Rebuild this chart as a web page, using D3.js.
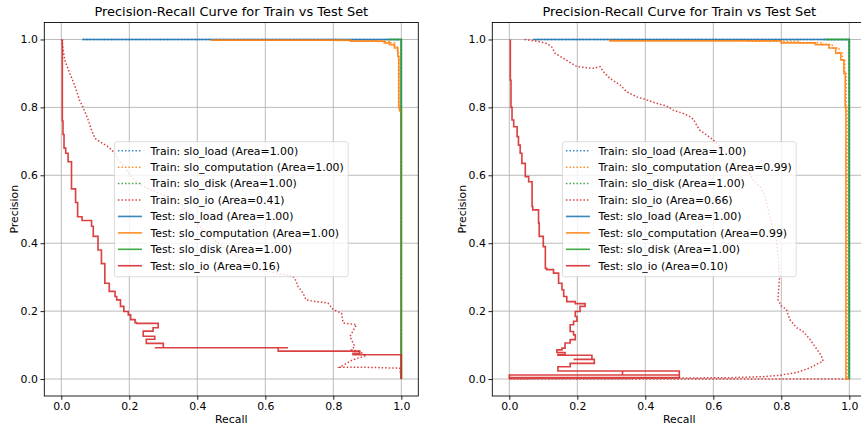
<!DOCTYPE html>
<html>
<head>
<meta charset="utf-8">
<script src="https://cdn.jsdelivr.net/npm/d3@7"></script>
<style>
  html, body { margin: 0; padding: 0; background: #ffffff; overflow: hidden; }
  svg { display: block; font-family: "DejaVu Sans", sans-serif; }
</style>
</head>
<body>
<svg id="chart" width="861" height="426"></svg>
<script>
// ---- shared labels / styling inputs ----
const classNames = ["slo_load", "slo_computation", "slo_disk", "slo_io"];
const classColors = ["#1f77b4", "#ff7f0e", "#2ca02c", "#d62728"];
const tickValues = [0.0, 0.2, 0.4, 0.6, 0.8, 1.0];
const chartTitle = "Precision-Recall Curve for Train vs Test Set";

// ---- left panel: [recall, precision] points ----
const leftTrainArea = [1.00, 1.00, 1.00, 0.41];
const leftTestArea  = [1.00, 1.00, 1.00, 0.16];

const leftTrainLoad = [[0.063, 1.0], [1.0, 1.0], [1.0, 0.0]];
const leftTrainComp = [[0.442, 1.0], [0.80, 0.999], [0.93, 0.997], [0.965, 0.994], [0.98, 0.99],
  [0.988, 0.98], [0.992, 0.96], [0.994, 0.80], [1.0, 0.79], [1.0, 0.0]];
const leftTrainDisk = [[0.955, 1.0], [1.0, 1.0], [1.0, 0.0]];
const leftTrainIo = [[0.001, 1.0], [0.01, 0.94], [0.025, 0.90], [0.039, 0.866], [0.054, 0.82],
  [0.064, 0.80], [0.079, 0.763], [0.089, 0.733], [0.099, 0.709], [0.113, 0.699], [0.138, 0.684],
  [0.158, 0.665], [0.167, 0.645], [0.187, 0.625], [0.202, 0.601], [0.227, 0.576], [0.261, 0.557],
  [0.29, 0.547], [0.349, 0.518], [0.383, 0.478], [0.417, 0.439], [0.461, 0.40], [0.50, 0.371],
  [0.545, 0.341], [0.584, 0.322], [0.633, 0.312], [0.682, 0.302], [0.69, 0.29], [0.696, 0.273],
  [0.711, 0.253], [0.72, 0.233], [0.75, 0.228], [0.784, 0.224], [0.80, 0.204], [0.824, 0.194],
  [0.829, 0.165], [0.868, 0.16], [0.849, 0.125], [0.863, 0.096], [0.853, 0.086], [0.877, 0.081],
  [0.897, 0.069], [0.858, 0.057], [0.819, 0.035], [0.877, 0.035], [0.995, 0.032], [1.0, 0.0]];

const leftTestLoad = [[0.062, 1.0], [1.0, 1.0], [1.0, 0.0]];
const leftTestComp = [[0.442, 1.0], [0.85, 0.998], [0.95, 0.995], [0.965, 0.99], [0.98, 0.985],
  [0.99, 0.975], [0.993, 0.95], [0.995, 0.80], [1.0, 0.79], [1.0, 0.0]];
const leftTestDisk = [[0.965, 1.0], [1.0, 1.0], [1.0, 0.0]];
const leftTestIo = [[0.003, 1.0], [0.005, 0.76], [0.008, 0.72], [0.013, 0.68], [0.02, 0.665],
  [0.03, 0.64], [0.042, 0.56], [0.048, 0.52], [0.061, 0.478], [0.089, 0.467], [0.094, 0.45],
  [0.108, 0.42], [0.118, 0.38], [0.128, 0.34], [0.141, 0.282], [0.158, 0.258], [0.163, 0.243],
  [0.174, 0.233], [0.184, 0.214], [0.197, 0.199], [0.204, 0.189], [0.217, 0.175], [0.221, 0.166],
  [0.285, 0.164], [0.27, 0.151], [0.241, 0.141], [0.275, 0.126], [0.25, 0.117], [0.30, 0.105],
  [0.275, 0.092], [0.667, 0.092], [0.638, 0.092], [0.878, 0.082], [0.858, 0.076], [1.0, 0.0715],
  [1.0, 0.0]];

// ---- right panel: [recall, precision] points ----
const rightTrainArea = [1.00, 0.99, 1.00, 0.66];
const rightTestArea  = [1.00, 0.99, 1.00, 0.10];

const rightTrainLoad = [[0.071, 1.0], [1.0, 1.0], [1.0, 0.0]];
const rightTrainComp = [[0.296, 1.0], [0.70, 0.998], [0.85, 0.995], [0.92, 0.99], [0.95, 0.985],
  [0.97, 0.975], [0.98, 0.96], [0.987, 0.94], [0.991, 0.90], [0.994, 0.80], [0.996, 0.0], [1.0, 0.0]];
const rightTrainDisk = [[0.923, 1.0], [1.0, 1.0], [1.0, 0.0]];
const rightTrainIo = [[0.045, 1.0], [0.091, 0.993], [0.11, 0.988], [0.125, 0.978], [0.135, 0.959],
  [0.16, 0.944], [0.184, 0.929], [0.199, 0.92], [0.247, 0.915], [0.267, 0.92], [0.277, 0.905],
  [0.296, 0.885], [0.326, 0.866], [0.345, 0.846], [0.375, 0.831], [0.404, 0.822], [0.433, 0.812],
  [0.463, 0.804], [0.482, 0.792], [0.512, 0.782], [0.531, 0.773], [0.541, 0.765], [0.551, 0.748],
  [0.56, 0.733], [0.58, 0.719], [0.60, 0.704], [0.619, 0.684], [0.639, 0.665], [0.659, 0.645],
  [0.678, 0.625], [0.707, 0.606], [0.717, 0.586], [0.737, 0.567], [0.751, 0.542], [0.761, 0.50],
  [0.776, 0.439], [0.786, 0.41], [0.791, 0.361], [0.795, 0.302], [0.79, 0.234], [0.80, 0.215],
  [0.815, 0.205], [0.825, 0.175], [0.845, 0.151], [0.864, 0.140], [0.884, 0.117], [0.903, 0.090],
  [0.918, 0.068], [0.923, 0.053], [0.903, 0.043], [0.884, 0.033], [0.845, 0.019], [0.795, 0.011],
  [0.747, 0.007], [0.65, 0.004], [0.4, 0.002], [0.0, 0.001], [0.0, 0.0], [1.0, 0.0]];

const rightTestLoad = [[0.071, 1.0], [1.0, 1.0], [1.0, 0.0]];
const rightTestComp = [[0.296, 1.0], [0.80, 0.996], [0.90, 0.99], [0.94, 0.985], [0.96, 0.975],
  [0.975, 0.96], [0.984, 0.94], [0.988, 0.90], [0.99, 0.80], [0.991, 0.0], [1.0, 0.0]];
const rightTestDisk = [[0.93, 1.0], [1.0, 1.0], [1.0, 0.0]];
const rightTestIo = [[0.003, 1.0], [0.005, 0.88], [0.008, 0.80], [0.013, 0.763], [0.023, 0.743],
  [0.027, 0.714], [0.032, 0.689], [0.037, 0.665], [0.047, 0.635], [0.057, 0.596], [0.067, 0.581],
  [0.069, 0.508], [0.086, 0.498], [0.088, 0.459], [0.10, 0.42], [0.106, 0.39], [0.11, 0.326],
  [0.13, 0.322], [0.145, 0.312], [0.155, 0.282], [0.16, 0.263], [0.169, 0.243], [0.194, 0.228],
  [0.223, 0.222], [0.208, 0.214], [0.194, 0.199], [0.199, 0.184], [0.189, 0.17], [0.179, 0.16],
  [0.189, 0.14], [0.194, 0.13], [0.179, 0.116], [0.164, 0.106], [0.155, 0.091], [0.14, 0.086],
  [0.164, 0.078], [0.143, 0.072], [0.243, 0.07], [0.189, 0.058], [0.25, 0.058], [0.223, 0.046],
  [0.179, 0.046], [0.143, 0.036], [0.5, 0.0235], [0.5, 0.0118], [0.333, 0.0118], [0.333, 0.0235],
  [0.333, 0.0118], [0.0, 0.0118], [0.0, 0.004], [0.5, 0.004], [0.5, 0.0118], [0.0, 0.0118], [0.0, 0.0]];

// ---- layout ----
const axW = 374, axTop = 22.5, axBottom = 396;
const fontSize = 10.9;
const dottedWidth = 1.5, dottedDash = "1.5 2.0";
const solidWidth = 1.64, lineOpacity = 0.88;
const panels = [
  { left: 44.3,  train: [leftTrainLoad, leftTrainComp, leftTrainDisk, leftTrainIo],
    test: [leftTestLoad, leftTestComp, leftTestDisk, leftTestIo],
    trainArea: leftTrainArea, testArea: leftTestArea },
  { left: 492.3, train: [rightTrainLoad, rightTrainComp, rightTrainDisk, rightTrainIo],
    test: [rightTestLoad, rightTestComp, rightTestDisk, rightTestIo],
    trainArea: rightTrainArea, testArea: rightTestArea }
];

const svg = d3.select("#chart");
svg.append("rect").attr("width", 861).attr("height", 426).attr("fill", "#ffffff");

panels.forEach((p, pi) => {
  const x = d3.scaleLinear().domain([-0.05, 1.05]).range([p.left, p.left + axW]);
  const y = d3.scaleLinear().domain([-0.05, 1.05]).range([axBottom, axTop]);
  const g = svg.append("g");

  const clipId = "clip" + pi;
  svg.append("clipPath").attr("id", clipId)
    .append("rect").attr("x", p.left).attr("y", axTop).attr("width", axW).attr("height", axBottom - axTop);

  // grid
  const grid = g.append("g").attr("stroke", "#b0b0b0").attr("stroke-width", 0.87);
  grid.selectAll("line.gx").data(tickValues).join("line").attr("class", "gx")
    .attr("x1", d => x(d)).attr("x2", d => x(d)).attr("y1", axTop).attr("y2", axBottom);
  grid.selectAll("line.gy").data(tickValues).join("line").attr("class", "gy")
    .attr("x1", p.left).attr("x2", p.left + axW).attr("y1", d => y(d)).attr("y2", d => y(d));

  // curves: all training sets dotted, then all test sets solid
  const plot = g.append("g").attr("clip-path", `url(#${clipId})`);
  const stepLine = d3.line().x(d => x(d[0])).y(d => y(d[1])).curve(d3.curveStepBefore);
  const denseLine = d3.line().x(d => x(d[0])).y(d => y(d[1])).curve(d3.curveLinear);

  p.train.forEach((pts, i) => {
    plot.append("path").datum(pts)
      .attr("d", i === 3 ? denseLine : stepLine)
      .attr("fill", "none").attr("stroke", classColors[i])
      .attr("stroke-width", dottedWidth).attr("stroke-dasharray", dottedDash)
      .attr("stroke-opacity", lineOpacity);
  });
  p.test.forEach((pts, i) => {
    plot.append("path").datum(pts)
      .attr("d", stepLine)
      .attr("fill", "none").attr("stroke", classColors[i])
      .attr("stroke-width", solidWidth).attr("stroke-linejoin", "miter")
      .attr("stroke-opacity", lineOpacity);
  });

  // axes
  const xAxis = d3.axisBottom(x).tickValues(tickValues).tickFormat(d3.format(".1f"))
    .tickSize(3.8).tickPadding(2.6).tickSizeOuter(0);
  const yAxis = d3.axisLeft(y).tickValues(tickValues).tickFormat(d3.format(".1f"))
    .tickSize(3.8).tickPadding(2.6).tickSizeOuter(0);
  const gx = g.append("g").attr("transform", `translate(0,${axBottom})`).call(xAxis);
  const gy = g.append("g").attr("transform", `translate(${p.left},0)`).call(yAxis);
  [gx, gy].forEach(a => {
    a.select(".domain").remove();
    a.selectAll(".tick line").attr("stroke", "#000").attr("stroke-width", 0.87);
    a.selectAll(".tick text").attr("fill", "#000")
      .style("font-family", "DejaVu Sans").style("font-size", fontSize + "px");
  });

  // spines
  g.append("rect").attr("x", p.left).attr("y", axTop).attr("width", axW).attr("height", axBottom - axTop)
    .attr("fill", "none").attr("stroke", "#000").attr("stroke-width", 0.87);

  // titles and axis labels
  const cx = p.left + axW / 2;
  g.append("text").attr("x", cx).attr("y", 16.4).attr("text-anchor", "middle")
    .style("font-size", "12.95px").attr("fill", "#000").text(chartTitle);
  g.append("text").attr("x", cx).attr("y", 422.6).attr("text-anchor", "middle")
    .style("font-size", fontSize + "px").attr("fill", "#000").text("Recall");
  g.append("text")
    .attr("transform", `translate(${p.left - 26.6},${(axTop + axBottom) / 2}) rotate(-90)`)
    .attr("text-anchor", "middle").style("font-size", fontSize + "px").attr("fill", "#000")
    .text("Precision");

  // legend, centred in the axes
  const entries = [];
  p.train.forEach((_, i) => entries.push({ label: `Train: ${classNames[i]} (Area=${p.trainArea[i].toFixed(2)})`, color: classColors[i], dotted: true }));
  p.test.forEach((_, i) => entries.push({ label: `Test: ${classNames[i]} (Area=${p.testArea[i].toFixed(2)})`, color: classColors[i], dotted: false }));

  const rowStep = 16.43;
  const leg = g.append("g");
  const box = leg.append("rect");
  const rows = leg.selectAll("g.row").data(entries).join("g").attr("class", "row");
  const texts = rows.append("text").style("font-size", fontSize + "px").attr("fill", "#000")
    .text(d => d.label);
  let maxLen = 0;
  texts.each(function () { maxLen = Math.max(maxLen, this.getComputedTextLength()); });
  const boxW = 36 + maxLen + 4.4;
  const boxH = entries.length * rowStep + 3.6;
  const bx = cx - boxW / 2;
  const by = (axTop + axBottom) / 2 - boxH / 2;
  box.attr("x", bx).attr("y", by).attr("width", boxW).attr("height", boxH)
    .attr("rx", 2.2).attr("fill", "#ffffff").attr("fill-opacity", 0.8)
    .attr("stroke", "#cccccc").attr("stroke-opacity", 0.8).attr("stroke-width", 0.87);
  rows.attr("transform", (d, i) => `translate(${bx},${by + 9 + i * rowStep})`);
  texts.attr("x", 36).attr("y", 3.9);
  rows.append("line").attr("x1", 3.5).attr("x2", 27.5).attr("y1", 0).attr("y2", 0)
    .attr("stroke", d => d.color)
    .attr("stroke-width", d => d.dotted ? dottedWidth : solidWidth)
    .attr("stroke-dasharray", d => d.dotted ? dottedDash : null)
    .attr("stroke-opacity", lineOpacity);
});
</script>
</body>
</html>
